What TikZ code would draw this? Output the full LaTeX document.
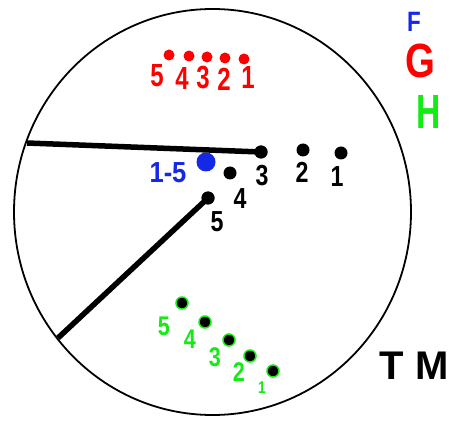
\documentclass[tikz,border=0pt]{standalone}
\usepackage{fontspec}
\setmainfont{Liberation Sans}
\definecolor{penred}{RGB}{255,0,0}
\definecolor{pengreen}{RGB}{20,235,20}
\definecolor{penblue}{RGB}{20,40,230}
\begin{document}
\begin{tikzpicture}[x=1pt,y=-1pt,
  dialdot/.style={circle,fill=black,inner sep=0pt,minimum size=13pt},
  reddot/.style={circle,fill=penred,inner sep=0pt,minimum size=11pt},
  greendot/.style={circle,fill=black,draw=pengreen,line width=1.5pt,inner sep=0pt,minimum size=12pt},
  bluedot/.style={circle,fill=penblue,inner sep=0pt,minimum size=19pt},
  hand/.style={line width=5.5pt},
  lab/.style={inner sep=0pt,xscale=0.8,font=\fontsize{29}{29}\selectfont\bfseries},
  redlab/.style={inner sep=0pt,xscale=0.75,text=penred,font=\fontsize{32}{32}\selectfont\bfseries},
  greenlab/.style={lab,text=pengreen,font=\fontsize{27}{27}\selectfont\bfseries},
  biglab/.style={inner sep=0pt,font=\fontsize{48}{48}\selectfont\bfseries}]
\useasboundingbox (0,0) rectangle (462,427);
\fill[white] (0,0) rectangle (462,427);
% dial
\draw[line width=1.8pt] (212.5,212) ellipse [x radius=198.5, y radius=203];
\coordinate (rimA) at (27,143);
\coordinate (rimB) at (58,338);
% black dots
\node[dialdot] (d3) at (261,152) {};
\node[dialdot] (d2) at (303,150) {};
\node[dialdot] (d1) at (341,153) {};
\node[dialdot] (d4) at (230,173) {};
\node[dialdot] (d5) at (208,198) {};
\node[bluedot] (b15) at (206,162) {};
\draw[hand] (rimA) -- (d3.center);
\draw[hand] (rimB) -- (d5.center);
\node[dialdot] at (d3) {};
\node[dialdot] at (d5) {};
% black labels
\node[lab] (l3) at (262,176) {3};
\node[lab] (l2) at (302,172) {2};
\node[lab] (l1) at (337,177) {1};
\node[lab] (l4) at (240,199) {4};
\node[lab] (l5) at (217,222) {5};
\node[lab,xscale=1.1,text=penblue] (l15) at (168,173) {1-5};
% red row
\node[reddot] (r5) at (169,55) {};
\node[reddot] (r4) at (189,56) {};
\node[reddot] (r3) at (207,57) {};
\node[reddot] (r2) at (225,58) {};
\node[reddot] (r1) at (244,59) {};
\node[redlab] (rl5) at (157,76) {5};
\node[redlab] (rl4) at (182,78) {4};
\node[redlab] (rl3) at (203,78) {3};
\node[redlab] (rl2) at (224,79) {2};
\node[redlab] (rl1) at (248,77) {1};
% green row
\node[greendot] (g5) at (182,303) {};
\node[greendot] (g4) at (205,322) {};
\node[greendot] (g3) at (229,340) {};
\node[greendot] (g2) at (250,356) {};
\node[greendot] (g1) at (273,371) {};
\node[greenlab] (gl5) at (164,326) {5};
\node[greenlab] (gl4) at (190,339) {4};
\node[greenlab] (gl3) at (215,357) {3};
\node[greenlab] (gl2) at (239,372) {2};
\node[greenlab,font=\fontsize{17}{17}\selectfont\bfseries] (gl1) at (262,388) {1};
% side letters
\node[inner sep=0pt,xscale=0.8,text=penblue,font=\fontsize{28}{28}\selectfont\bfseries] (F) at (414,22) {F};
\node[biglab,xscale=0.8,text=penred] (G) at (420,61) {G};
\node[biglab,xscale=0.7,text=pengreen] (H) at (429,112) {H};
\node[inner sep=0pt,font=\fontsize{40}{40}\selectfont\bfseries] (TM) at (414,366) {T\hspace{12pt}M};
\end{tikzpicture}
\end{document}
